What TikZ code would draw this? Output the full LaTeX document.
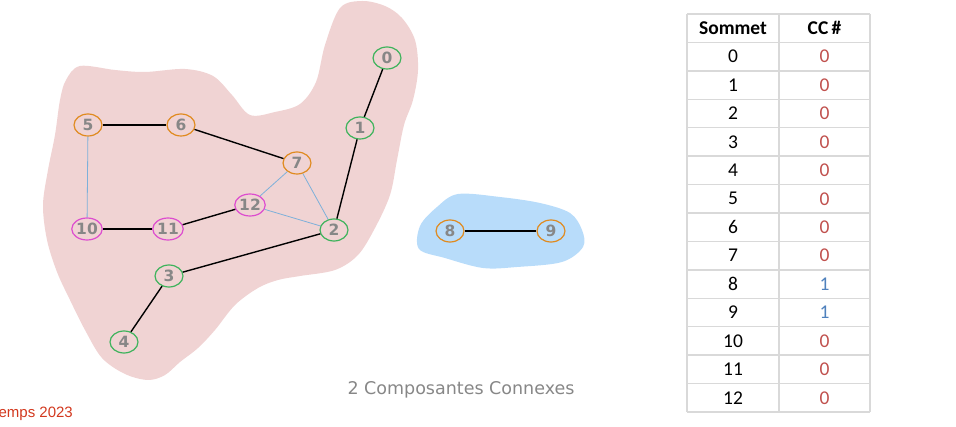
\documentclass[tikz,border=0pt]{standalone}
\usepackage{fontspec}
\setmainfont{Carlito}
\newfontfamily\lblfont{DejaVu Sans}
\newfontfamily\capfont{DejaVu Sans}
\newfontfamily\redfont{Liberation Sans}
\usetikzlibrary{shapes.geometric}
\definecolor{pinkblob}{HTML}{F0D3D3}
\definecolor{blueblob}{HTML}{B8DCFA}
\definecolor{vorange}{HTML}{E08A1E}
\definecolor{vgreen}{HTML}{3DB35B}
\definecolor{vmag}{HTML}{DD4CCF}
\definecolor{lblgray}{HTML}{878787}
\definecolor{thinblue}{HTML}{7DB0DA}
\definecolor{gridgray}{HTML}{D9D9D9}
\definecolor{cczero}{HTML}{C0504D}
\definecolor{ccone}{HTML}{4F81BD}
\definecolor{redtxt}{HTML}{D2381E}
\tikzset{
  vtx/.style={ellipse, draw=#1, line width=1.2pt, fill=none, minimum width=28pt, minimum height=22pt, inner sep=0pt,
    font=\lblfont\bfseries\fontsize{15.5}{15.5}\selectfont, text=lblgray},
  tree/.style={line width=1.4pt, black},
  back/.style={line width=0.8pt, thinblue},
  cell/.style={font=\fontsize{19.5}{19.5}\selectfont},
}
\begin{document}
\begin{tikzpicture}[x=1pt,y=-1pt]
\useasboundingbox (0,0) rectangle (956,427);
% pink blob
\fill[pinkblob] plot[smooth cycle, tension=0.55] coordinates {
 (340,8) (362,1) (385,6) (402,18) (415,40) (418,70) (413,100) (404,125) (397,160) (390,195) (375,228)
 (358,255) (335,270) (300,276) (278,280) (258,288) (235,305) (215,330) (198,348) (180,362) (165,375)
 (148,380) (125,374) (102,358) (85,330) (70,300) (57,272) (47,240) (43,205) (48,170) (55,135)
 (60,100) (66,80) (80,66) (115,70) (145,72) (185,69) (213,76) (232,95) (250,115) (275,112)
 (300,104) (316,82) (325,45)};
% blue blob
\fill[blueblob] plot[smooth cycle, tension=0.55] coordinates {
 (420,226) (437,207) (458,194) (500,197) (540,203) (570,213) (582,230) (583,247) (562,262)
 (517,267) (483,268) (445,258) (419,249)};
% nodes
\node[vtx=vgreen] (n0) at (387,58) {0};
\node[vtx=vgreen] (n1) at (360,128) {1};
\node[vtx=vgreen] (n2) at (334,230) {2};
\node[vtx=vgreen] (n3) at (169,276) {3};
\node[vtx=vgreen] (n4) at (124,342) {4};
\node[vtx=vorange] (n5) at (88,125) {5};
\node[vtx=vorange] (n6) at (181,125) {6};
\node[vtx=vorange] (n7) at (297,163) {7};
\node[vtx=vorange] (n8) at (450,231) {8};
\node[vtx=vorange] (n9) at (551,231) {9};
\node[vtx=vmag] (n10) at (87,229) {10};
\node[vtx=vmag] (n11) at (168,229) {11};
\node[vtx=vmag] (n12) at (250,205) {12};
% edges
\draw[tree] (n0) -- (n1);
\draw[tree] (n1) -- (n2);
\draw[tree] (n5) -- (n6);
\draw[tree] (n6) -- (n7);
\draw[tree] (n10) -- (n11);
\draw[tree] (n11) -- (n12);
\draw[tree] (n2) -- (n3);
\draw[tree] (n3) -- (n4);
\draw[tree] (n8) -- (n9);
\draw[back] (n5) -- (n10);
\draw[back] (n7) -- (n12);
\draw[back] (n7) -- (n2);
\draw[back] (n12) -- (n2);
% table
\def\tl{687}\def\tm{779}\def\tr{870}\def\tt{14}\def\rh{28.43}
\foreach \i in {0,...,14} {
  \draw[gridgray, line width=1.5pt] (\tl,\tt+\i*\rh) -- (\tr,\tt+\i*\rh);
}
\draw[gridgray, line width=1.5pt] (\tl,\tt) -- (\tl,\tt+14*\rh);
\draw[gridgray, line width=1.5pt] (\tm,\tt) -- (\tm,\tt+14*\rh);
\draw[gridgray, line width=1.5pt] (\tr,\tt) -- (\tr,\tt+14*\rh);
\node[cell, font=\bfseries\fontsize{19.5}{19.5}\selectfont] (h1) at (733,\tt+0.5*\rh) {Sommet};
\node[cell, font=\bfseries\fontsize{19.5}{19.5}\selectfont] (h2) at (824.5,\tt+0.5*\rh) {CC\,\#};
\foreach \v/\c/\col in {0/0/cczero,1/0/cczero,2/0/cczero,3/0/cczero,4/0/cczero,5/0/cczero,6/0/cczero,7/0/cczero,8/1/ccone,9/1/ccone,10/0/cczero,11/0/cczero,12/0/cczero} {
  \node[cell] (s\v) at (733,\tt+\v*\rh+1.5*\rh) {\v};
  \node[cell, text=\col] (c\v) at (824.5,\tt+\v*\rh+1.5*\rh) {\c};
}
% captions
\node[font=\capfont\fontsize{17.5}{17.5}\selectfont, text=lblgray] (cap) at (461,390) {2 Composantes Connexes};
\node[font=\redfont\fontsize{15}{15}\selectfont, text=redtxt, anchor=east, inner sep=0pt] (red) at (73,414) {emps 2023};
\end{tikzpicture}
\end{document}
